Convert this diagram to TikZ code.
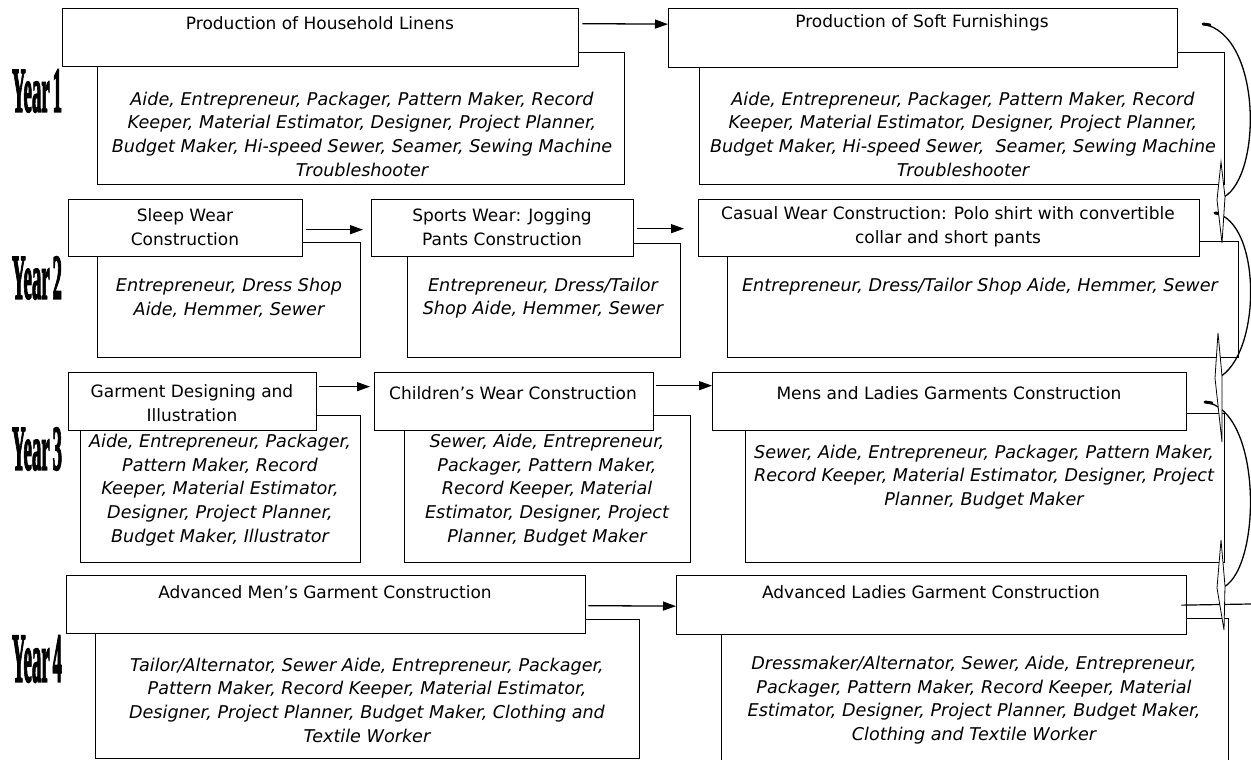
\documentclass[tikz,border=0pt]{standalone}
\usepackage{fontspec}
\setmainfont{DejaVu Sans}
\newfontfamily\yearfont{Liberation Serif}[BoldFeatures={FakeBold=3}]
\usetikzlibrary{arrows.meta}
\tikzset{
  box/.style={draw, line width=1.3pt, fill=white, rectangle, inner sep=0pt, anchor=north west},
  ttl/.style={font=\fontsize{17}{23.5}\selectfont, align=center, inner sep=0pt},
  dsc/.style={font=\fontsize{17.6}{23.7}\selectfont\itshape, align=center, inner sep=0pt},
  arr/.style={line width=1.3pt, -{Triangle[length=13pt,width=9pt]}},
  curv/.style={line width=1.3pt},
  wedge/.style={draw, line width=0.8pt, fill=white},
  yr/.style={inner sep=0pt}
}
\newcommand\bx[5]{\node[box, minimum width={(#4)-(#2)}, minimum height={(#5)-(#3)}] (#1) at (#2,#3) {};}
\newcommand\yrlab[1]{\resizebox{50pt}{42pt}{\yearfont\bfseries Year\kern1.5pt#1}}
\begin{document}
\begin{tikzpicture}[x=1pt,y=-1pt]
\useasboundingbox (0,0) rectangle (1251,760);
% description boxes
\bx{d1l}{97}{52}{624}{184}
\bx{d1r}{699}{52}{1224}{184}
\bx{dsl}{97}{242}{360}{357}
\bx{dsp}{407}{243}{680}{357}
\bx{dca}{727}{241}{1238}{357}
\bx{dga}{80}{415}{360}{562}
\bx{dch}{404}{415}{690}{562}
\bx{dme}{745}{413}{1224}{562}
\bx{dam}{95}{619}{639}{758}
\bx{dal}{721}{618}{1228}{775}
% title boxes
\bx{t1l}{62}{8}{578}{66}
\bx{t1r}{668}{8}{1177}{67}
\bx{tsl}{68}{199}{302}{256}
\bx{tsp}{371}{199}{633}{256}
\bx{tca}{698}{199}{1199}{256}
\bx{tga}{68}{372}{316}{430}
\bx{tch}{374}{372}{653}{430}
\bx{tme}{712}{372}{1186}{430}
\bx{tam}{66}{575}{585}{633}
\bx{tal}{676}{575}{1186}{634}
% title texts
\node[ttl] (l1l) at (320,23) {Production of Household Linens};
\node[ttl] (l1r) at (922,23) {Production of Soft Furnishings};
\node[ttl] (lsl) at (185,227) {Sleep Wear\\Construction};
\node[ttl] (lsp) at (502,227) {Sports Wear: Jogging\\Pants Construction};
\node[ttl] (lca) at (948,227) {Casual Wear Construction: Polo shirt with convertible\\collar and short pants};
\node[ttl] (lga) at (192,403) {Garment Designing and\\Illustration};
\node[ttl] (lch) at (513,393) {Children’s Wear Construction};
\node[ttl] (lme) at (949,393) {Mens and Ladies Garments Construction};
\node[ttl] (lam) at (325,592) {Advanced Men’s Garment Construction};
\node[ttl] (lal) at (931,592) {Advanced Ladies Garment Construction};
% description texts
\node[dsc] (e1l) at (362,134) {Aide, Entrepreneur, Packager, Pattern Maker, Record\\Keeper, Material Estimator, Designer, Project Planner,\\Budget Maker, Hi-speed Sewer, Seamer, Sewing Machine\\Troubleshooter};
\node[dsc] (e1r) at (963,134) {Aide, Entrepreneur, Packager, Pattern Maker, Record\\Keeper, Material Estimator, Designer, Project Planner,\\Budget Maker, Hi-speed Sewer,\ \ Seamer, Sewing Machine\\Troubleshooter};
\node[dsc] (esl) at (229,298) {Entrepreneur, Dress Shop\\Aide, Hemmer, Sewer};
\node[dsc] (esp) at (543,298) {Entrepreneur, Dress/Tailor\\Shop Aide, Hemmer, Sewer};
\node[dsc] (eca) at (980,287) {Entrepreneur, Dress/Tailor Shop Aide, Hemmer, Sewer};
\node[dsc] (ega) at (220,490) {Aide, Entrepreneur, Packager,\\Pattern Maker, Record\\Keeper, Material Estimator,\\Designer, Project Planner,\\Budget Maker, Illustrator};
\node[dsc] (ech) at (547,490) {Sewer, Aide, Entrepreneur,\\Packager, Pattern Maker,\\Record Keeper, Material\\Estimator, Designer, Project\\Planner, Budget Maker};
\node[dsc] (eme) at (984,477) {Sewer, Aide, Entrepreneur, Packager, Pattern Maker,\\Record Keeper, Material Estimator, Designer, Project\\Planner, Budget Maker};
\node[dsc] (eam) at (367,700) {Tailor/Alternator, Sewer Aide, Entrepreneur, Packager,\\Pattern Maker, Record Keeper, Material Estimator,\\Designer, Project Planner, Budget Maker, Clothing and\\Textile Worker};
\node[dsc] (eal) at (974,700) {Dressmaker/Alternator, Sewer, Aide, Entrepreneur,\\Packager, Pattern Maker, Record Keeper, Material\\Estimator, Designer, Project Planner, Budget Maker,\\Clothing and Textile Worker};
% year labels
\node[yr] (y1) at (37,91) {\yrlab{1}};
\node[yr] (y2) at (37,278) {\yrlab{2}};
\node[yr] (y3) at (37,449) {\yrlab{3}};
\node[yr] (y4) at (37,659) {\resizebox{50pt}{46pt}{\yearfont\bfseries Year\kern1.5pt4}};
% straight arrows
\draw[arr] ([xshift=3pt,yshift=14pt]t1l.east) -- ([yshift=14pt]t1r.west);
\draw[arr] ([xshift=3pt,yshift=-1.5pt]tsl.east) -- ([xshift=-8pt,yshift=-1.5pt]tsp.west);
\draw[arr] ([xshift=3pt,yshift=-0.5pt]tsp.east) -- ([xshift=-14pt,yshift=-0.5pt]tca.west);
\draw[arr] ([xshift=2pt,yshift=15pt]tga.east) -- ([xshift=-4pt,yshift=15pt]tch.west);
\draw[arr] ([xshift=2pt,yshift=16pt]tch.east) -- ([yshift=16pt]tme.west);
\draw[arr] ([xshift=2pt,yshift=-1pt]tam.east) -- ([yshift=-1pt]tal.west);
\coordinate (out) at (1251,604);
\draw[line width=1.2pt] ([xshift=-6pt]tal.east) -- (out);
% curved connectors on the right
\coordinate (a1) at (1203,24);  \coordinate (a2) at (1224,197);
\coordinate (b1) at (1215,213); \coordinate (b2) at (1218,378);
\coordinate (c1) at (1205,402); \coordinate (c2) at (1224,587);
\draw[curv] (a1) .. controls (1262,35) and (1262,175) .. (a2);
\draw[curv] (b1) .. controls (1262,222) and (1262,355) .. (b2);
\draw[curv] (c1) .. controls (1262,410) and (1262,565) .. (c2);
\draw[line width=3pt, line cap=round] (a1) -- ++(7,1);
\draw[line width=3pt, line cap=round] (b1) -- ++(7,1);
\draw[line width=3pt, line cap=round] (c1) -- ++(7,1);
\draw[wedge] (1221,162) -- (1217,200) -- (1222,243) -- (1225,197) -- cycle;
\draw[wedge] (1218,333) -- (1215,378) -- (1222,442) -- (1222,376) -- cycle;
\draw[wedge] (1221,540) -- (1217,588) -- (1224,630) -- (1225,586) -- cycle;
\end{tikzpicture}
\end{document}
